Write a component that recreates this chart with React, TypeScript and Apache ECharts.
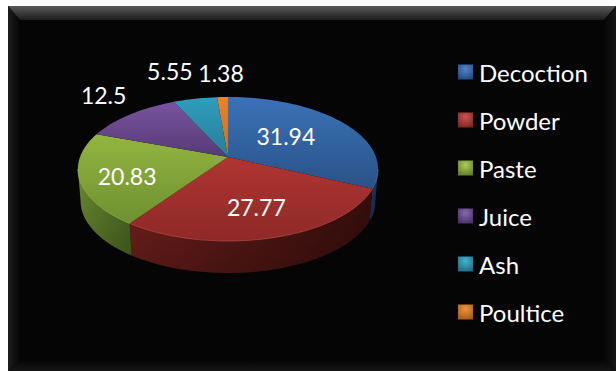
import React, { useEffect, useRef } from "react";
import * as echarts from "echarts";

const categories = ["Decoction", "Powder", "Paste", "Juice", "Ash", "Poultice"];
const values = [31.94, 27.77, 20.83, 12.5, 5.55, 1.38];

// Top-face gradient stops per slice: [upper, lower]
const topColors = [
  ["#3a72b8", "#2a5287"],
  ["#b03532", "#8e2927"],
  ["#92b540", "#6f9030"],
  ["#7a53a0", "#553b75"],
  ["#2f9dbd", "#287e98"],
  ["#ee8124", "#cf6d1a"],
];
// Side-wall gradient stops per slice: [left, right]
const wallColors = [
  ["#1c3c66", "#16304f"],
  ["#701f1c", "#360e0c"],
  ["#6b8a30", "#4d6a22"],
  ["#3f2c57", "#3f2c57"],
  ["#1e5f73", "#1e5f73"],
  ["#a05414", "#a05414"],
];
// Legend swatch stops: [glow, edge]
const legendColors = [
  ["#4f86cc", "#234a7c"],
  ["#d0524f", "#7c2523"],
  ["#a9cc58", "#5f7d2a"],
  ["#8a66b2", "#47316a"],
  ["#42b4d2", "#1f6a80"],
  ["#f0933c", "#a85a16"],
];
const rimColors = ["#4a7fc0", "#c65450", "#a4c455", "#8a68ae", "#4ab0cc", "#f09a48"];

// Label placement: radial factor from the apex along the slice's mid-angle, plus a small offset
const labelRadial = [0.51, 0.62, 0.69, 1.26, 1.42, 1.32];
const labelShiftX = [-3, 2, 0, -4, -14, 0];
const labelShiftY = [-3, 3, 4, -10, -8, -8];

// Projected disc geometry
const APEX_X = 228;
const APEX_Y = 157;
const SCALE_X = 148;
const SCALE_Y = 70;
const TILT = 1 / 6;
const DEPTH = 32;
const BOTTOM_SHRINK = 0.982;

const total = values.reduce((a, b) => a + b, 0);

function project(deg: number, f = 1): [number, number] {
  const t = (deg * Math.PI) / 180;
  const u = Math.sin(t) * f;
  const v = -Math.cos(t) * f;
  const d = 1 - TILT * v;
  return [APEX_X + (SCALE_X * u) / d, APEX_Y + (SCALE_Y * v) / d];
}

function arc(from: number, to: number): [number, number][] {
  const n = Math.max(2, Math.ceil((to - from) / 2));
  const out: [number, number][] = [];
  for (let i = 0; i <= n; i++) out.push(project(from + ((to - from) * i) / n));
  return out;
}

// The wall is only seen between the disc's two widest points
const WALL_FROM = (Math.acos(-TILT) * 180) / Math.PI;
const WALL_TO = 360 - WALL_FROM;

function sliceRender(index: number) {
  return () => {
    const start = (values.slice(0, index).reduce((a, b) => a + b, 0) / total) * 360;
    const end = start + (values[index] / total) * 360;
    const mid = (start + end) / 2;
    const children: any[] = [];

    const wallStart = Math.max(start, WALL_FROM);
    const wallEnd = Math.min(end, WALL_TO);
    if (wallEnd > wallStart) {
      const rim = arc(wallStart, wallEnd);
      const lower = rim
        .map(([x, y]) => [APEX_X + (x - APEX_X) * BOTTOM_SHRINK, y + DEPTH] as [number, number])
        .reverse();
      children.push({
        type: "polygon",
        shape: { points: [...rim, ...lower] },
        style: {
          fill: new echarts.graphic.LinearGradient(0, 0, 1, 0, [
            { offset: 0, color: wallColors[index][0] },
            { offset: 1, color: wallColors[index][1] },
          ]),
        },
      });
      // Darkening toward the bottom edge of the wall
      children.push({
        type: "polygon",
        shape: { points: [...rim, ...lower] },
        style: {
          fill: new echarts.graphic.LinearGradient(0, 0, 0, 1, [
            { offset: 0, color: "rgba(0,0,0,0)" },
            { offset: 1, color: "rgba(0,0,0,0.22)" },
          ]),
        },
      });
    }

    children.push({
      type: "polygon",
      shape: { points: [[APEX_X, APEX_Y], ...arc(start, end)] },
      style: {
        fill: new echarts.graphic.LinearGradient(0, 0, 0, 1, [
          { offset: 0, color: topColors[index][0] },
          { offset: 1, color: topColors[index][1] },
        ]),
      },
    });

    if (wallEnd > wallStart) {
      children.push({
        type: "polyline",
        shape: { points: arc(wallStart, wallEnd) },
        style: { stroke: rimColors[index], lineWidth: 1, fill: "none", opacity: 0.6 },
      });
    }

    const [lx, ly] = project(mid, labelRadial[index]);
    children.push({
      type: "text",
      z2: 50,
      style: {
        x: lx + labelShiftX[index],
        y: ly + labelShiftY[index],
        text: String(values[index]),
        fill: "#ffffff",
        font: '23px Lato, "Open Sans", sans-serif',
        textAlign: "center",
        textVerticalAlign: "middle",
      },
    });
    return { type: "group", children };
  };
}

export default function App() {
  const ref = useRef<HTMLDivElement>(null);
  useEffect(() => {
    document.body.style.margin = "0";
    document.body.style.background = "#ffffff";
    const chart = echarts.init(ref.current!, undefined, { renderer: "svg" });
    chart.setOption({
      animation: false,
      backgroundColor: "#ffffff",
      graphic: {
        elements: [
          { type: "rect", z: -10, shape: { x: 8, y: 6, width: 608, height: 365 }, style: { fill: "#050505" } },
          {
            type: "polygon",
            z: -9,
            shape: { points: [[8, 6], [616, 6], [604, 20], [20, 20]] },
            style: {
              fill: new echarts.graphic.LinearGradient(0, 0, 0, 1, [
                { offset: 0, color: "#5a5a5a" },
                { offset: 1, color: "#1c1c1c" },
              ]),
            },
          },
          {
            type: "polygon",
            z: -9,
            shape: { points: [[8, 6], [20, 20], [20, 360], [8, 371]] },
            style: {
              fill: new echarts.graphic.LinearGradient(0, 0, 1, 0, [
                { offset: 0, color: "#1e1e1e" },
                { offset: 1, color: "#050505" },
              ]),
            },
          },
          {
            type: "polygon",
            z: -9,
            shape: { points: [[20, 360], [604, 360], [616, 371], [8, 371]] },
            style: {
              fill: new echarts.graphic.LinearGradient(0, 0, 0, 1, [
                { offset: 0, color: "#050505" },
                { offset: 1, color: "#161616" },
              ]),
            },
          },
          {
            type: "polygon",
            z: -9,
            shape: { points: [[604, 20], [616, 6], [616, 371], [604, 360]] },
            style: {
              fill: new echarts.graphic.LinearGradient(0, 0, 1, 0, [
                { offset: 0, color: "#050505" },
                { offset: 1, color: "#161616" },
              ]),
            },
          },
        ],
      },
      legend: {
        orient: "vertical",
        left: 453,
        top: 55,
        itemWidth: 15,
        itemHeight: 15,
        itemGap: 24,
        icon: "rect",
        data: categories,
        selectedMode: false,
        textStyle: {
          color: "#ffffff",
          fontFamily: 'Lato, "Open Sans", sans-serif',
          fontSize: 24,
          lineHeight: 24,
          padding: [0, 0, 0, 1],
        },
      },
      series: categories.map((name, i) => ({
        type: "custom",
        name,
        coordinateSystem: "none",
        silent: true,
        itemStyle: {
          color: new echarts.graphic.RadialGradient(0.5, 0.3, 0.75, [
            { offset: 0, color: legendColors[i][0] },
            { offset: 1, color: legendColors[i][1] },
          ]),
        },
        data: [[values[i]]],
        renderItem: sliceRender(i),
      })),
    });
    return () => chart.dispose();
  }, []);
  return <div ref={ref} style={{ width: 616, height: 371 }} />;
}
